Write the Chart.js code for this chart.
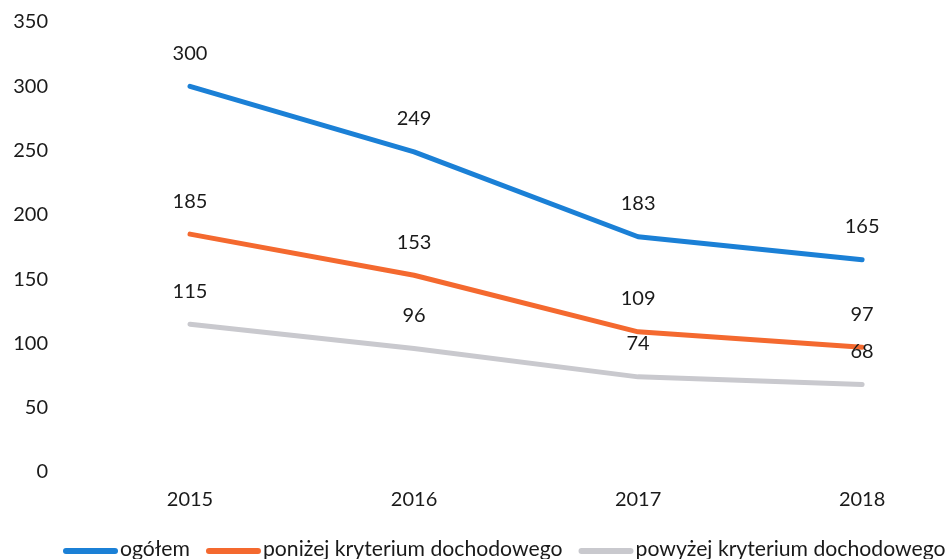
<!DOCTYPE html>
<html>
<head>
<meta charset="utf-8">
<script src="https://cdn.jsdelivr.net/npm/chart.js@4/dist/chart.umd.min.js"></script>
<style>
html,body{margin:0;padding:0;background:#fff;overflow:hidden;}
#wrap{width:945px;height:559px;position:relative;}
</style>
</head>
<body>
<div id="wrap"><canvas id="c" width="945" height="559"></canvas></div>
<script>
const years = [2015, 2016, 2017, 2018];
const ogolem = [300, 249, 183, 165];
const ponizej = [185, 153, 109, 97];
const powyzej = [115, 96, 74, 68];
const seriesNames = ['ogółem', 'poniżej kryterium dochodowego', 'powyżej kryterium dochodowego'];
const yTicks = [0, 50, 100, 150, 200, 250, 300, 350];

const FONT = 'Lato';
const TXT = '#1a1a1a';

const toPts = arr => years.map((yr, i) => ({x: yr, y: arr[i]}));

const labelPlugin = {
  id: 'valueLabels',
  afterDatasetsDraw(chart) {
    const ctx = chart.ctx;
    ctx.save();
    ctx.font = '20px ' + FONT;
    ctx.fillStyle = TXT;
    ctx.textAlign = 'center';
    ctx.textBaseline = 'middle';
    chart.data.datasets.forEach((ds, di) => {
      const meta = chart.getDatasetMeta(di);
      meta.data.forEach((pt, i) => {
        ctx.fillText(String(ds.data[i].y), pt.x, pt.y - 33);
      });
    });
    ctx.restore();
  }
};

const legendPlugin = {
  id: 'bottomLegend',
  afterDraw(chart) {
    const ctx = chart.ctx;
    ctx.save();
    ctx.font = '21.2px ' + FONT;
    ctx.textBaseline = 'middle';
    ctx.textAlign = 'left';
    let x = 63;
    const y = 551;
    chart.data.datasets.forEach(ds => {
      ctx.strokeStyle = ds.borderColor;
      ctx.lineWidth = 6;
      ctx.lineCap = 'round';
      ctx.beginPath();
      ctx.moveTo(x + 3, y);
      ctx.lineTo(x + 52, y);
      ctx.stroke();
      x += 57;
      ctx.fillStyle = TXT;
      ctx.fillText(ds.label, x, y - 2);
      x += ctx.measureText(ds.label).width + 16;
    });
    ctx.restore();
  }
};

new Chart(document.getElementById('c'), {
  type: 'line',
  data: {
    datasets: [
      {label: seriesNames[0], data: toPts(ogolem), borderColor: '#1b80d6', backgroundColor: '#1b80d6'},
      {label: seriesNames[1], data: toPts(ponizej), borderColor: '#f4692f', backgroundColor: '#f4692f'},
      {label: seriesNames[2], data: toPts(powyzej), borderColor: '#c9c9ce', backgroundColor: '#c9c9ce'}
    ].map(d => Object.assign(d, {borderWidth: 5, pointRadius: 0, tension: 0, borderCapStyle: 'round', borderJoinStyle: 'round'}))
  },
  options: {
    responsive: false,
    animation: false,
    layout: {padding: {top: 22, right: 0, left: 0, bottom: 47}},
    plugins: {
      legend: {display: false},
      tooltip: {enabled: false}
    },
    scales: {
      x: {
        type: 'linear',
        min: 2014.5,
        max: 2018.37,
        afterFit: s => { s.height = 40; s.paddingLeft = 0; s.paddingRight = 0; },
        grid: {display: false, drawTicks: false},
        border: {display: false},
        ticks: {
          stepSize: 1,
          includeBounds: false,
          maxRotation: 0,
          padding: 16,
          font: {family: FONT, size: 20},
          color: TXT,
          callback: v => Number.isInteger(v) ? String(v) : ''
        }
      },
      y: {
        min: 0,
        max: 350,
        afterFit: s => { s.width = 78; s.paddingTop = 0; s.paddingBottom = 0; },
        afterBuildTicks: s => { s.ticks = yTicks.map(v => ({value: v})); },
        grid: {display: false, drawTicks: false},
        border: {display: false},
        ticks: {
          padding: 30,
          font: {family: FONT, size: 20},
          color: TXT
        }
      }
    }
  },
  plugins: [labelPlugin, legendPlugin]
});
</script>
</body>
</html>
